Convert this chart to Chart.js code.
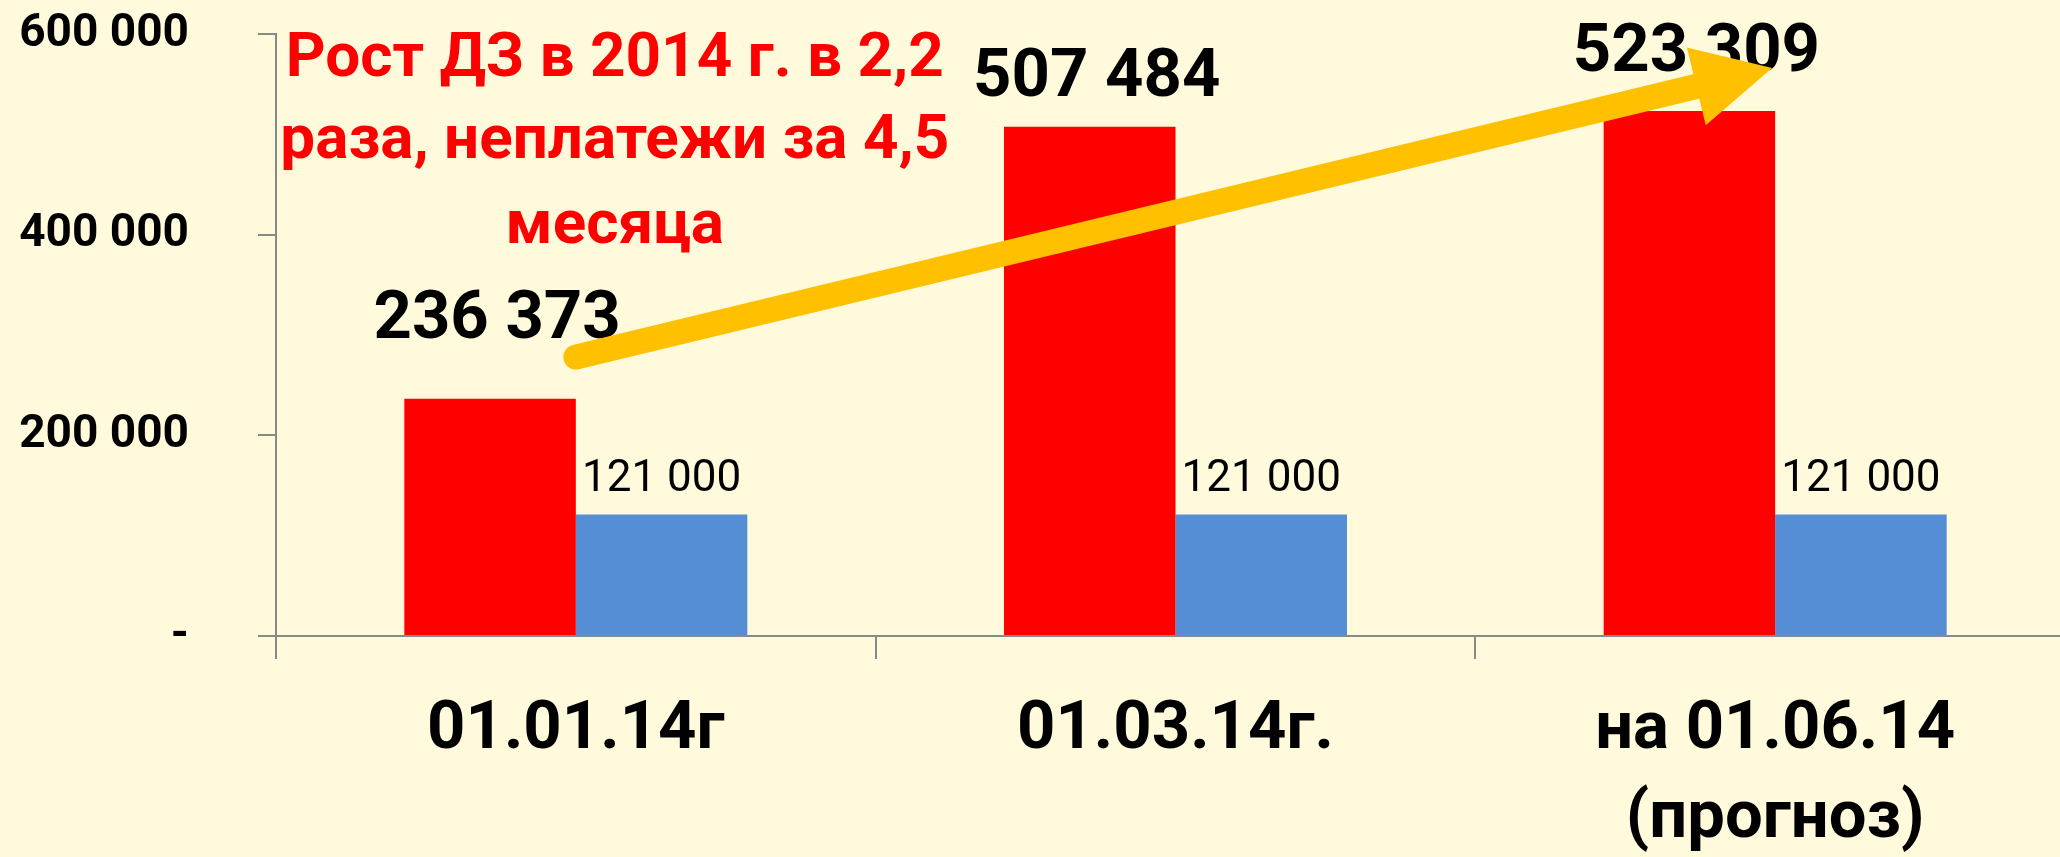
<!DOCTYPE html>
<html>
<head>
<meta charset="utf-8">
<script src="https://cdn.jsdelivr.net/npm/chart.js@4.4.1/dist/chart.umd.min.js"></script>
<style>
  html, body { margin: 0; padding: 0; background: #FFFADC; overflow: hidden; }
  #wrap { width: 2080px; height: 857px; }
</style>
</head>
<body>
<div id="wrap"><canvas id="debtChart"></canvas></div>
<script>
const categories = ['01.01.14г', '01.03.14г.', ['на 01.06.14', '(прогноз)']];
const debtValues = [236373, 507484, 523309];
const paymentValues = [121000, 121000, 121000];
const yTickStep = 200000;
const yMax = 600000;
const noteLines = ['Рост ДЗ в 2014 г. в 2,2', 'раза, неплатежи за 4,5', 'месяца'];
// arrow from / to, as [category index, value]
const trendArrow = [[0, 278000], [1.995, 566000]];

const FONT = 'Roboto, "Liberation Sans", sans-serif';

function fmt(v) {
    if (v === 0) return '-';
    return String(v).replace(/\B(?=(\d{3})+(?!\d))/g, ' ');
}

const backgroundPlugin = {
    id: 'bg',
    beforeDraw(chart) {
        const c = chart.ctx;
        c.save();
        c.fillStyle = '#FFFADC';
        c.fillRect(0, 0, chart.width, chart.height);
        c.restore();
    }
};

const valueLabels = {
    id: 'valueLabels',
    afterDatasetsDraw(chart, args, opts) {
        const c = chart.ctx;
        c.save();
        c.textAlign = 'center';
        c.textBaseline = 'alphabetic';
        c.fillStyle = '#000';
        chart.data.datasets.forEach((ds, i) => {
            const style = opts.styles[i];
            c.font = style.font;
            chart.getDatasetMeta(i).data.forEach((bar, j) => {
                const lift = Array.isArray(style.lift) ? style.lift[j] : style.lift;
                c.fillText(fmt(ds.data[j]), bar.x + style.dx, bar.y - lift);
            });
        });
        c.restore();
    }
};

const notePlugin = {
    id: 'note',
    afterDatasetsDraw(chart) {
        const c = chart.ctx;
        const x = chart.scales.x.getPixelForValue(0.065);
        const top = chart.scales.y.getPixelForValue(yMax);
        c.save();
        c.font = 'bold 62px ' + FONT;
        c.fillStyle = '#FF0000';
        c.textAlign = 'center';
        c.textBaseline = 'alphabetic';
        const baselines = [42, 124, 209];
        noteLines.forEach((line, i) => c.fillText(line, x, top + baselines[i]));
        c.restore();
    }
};

const arrowPlugin = {
    id: 'arrow',
    afterDraw(chart) {
        const c = chart.ctx;
        const xs = chart.scales.x, ys = chart.scales.y;
        const x0 = xs.getPixelForValue(trendArrow[0][0]), y0 = ys.getPixelForValue(trendArrow[0][1]);
        const x1 = xs.getPixelForValue(trendArrow[1][0]), y1 = ys.getPixelForValue(trendArrow[1][1]);
        const ang = Math.atan2(y1 - y0, x1 - x0);
        const headLen = 78, headHalf = 40;
        const bx = x1 - headLen * Math.cos(ang), by = y1 - headLen * Math.sin(ang);
        c.save();
        c.strokeStyle = '#FFC000';
        c.fillStyle = '#FFC000';
        c.lineWidth = 25;
        c.lineCap = 'round';
        c.beginPath();
        c.moveTo(x0, y0);
        c.lineTo(bx + 4 * Math.cos(ang), by + 4 * Math.sin(ang));
        c.stroke();
        c.beginPath();
        c.moveTo(x1, y1);
        c.lineTo(bx + headHalf * Math.sin(ang), by - headHalf * Math.cos(ang));
        c.lineTo(bx - headHalf * Math.sin(ang), by + headHalf * Math.cos(ang));
        c.closePath();
        c.fill();
        c.restore();
    }
};

const ctx = document.getElementById('debtChart').getContext('2d');
new Chart(ctx, {
    type: 'bar',
    data: {
        labels: categories,
        datasets: [{
            label: 'Дебиторская задолженность',
            data: debtValues,
            backgroundColor: '#FF0000',
            categoryPercentage: 0.572,
            barPercentage: 1.0
        }, {
            label: 'Платежи',
            data: paymentValues,
            backgroundColor: '#558ED5',
            categoryPercentage: 0.572,
            barPercentage: 1.0
        }]
    },
    options: {
        responsive: true,
        maintainAspectRatio: false,
        animation: false,
        layout: { padding: { top: 34, right: 5, left: 0, bottom: 0 } },
        plugins: {
            legend: { display: false },
            tooltip: { enabled: false },
            valueLabels: {
                styles: [
                    { font: 'bold 67px ' + FONT, lift: [61, 31, 40], dx: 7 },
                    { font: '44px ' + FONT, lift: 24, dx: 0 }
                ]
            }
        },
        scales: {
            y: {
                min: 0,
                max: yMax,
                ticks: {
                    stepSize: yTickStep,
                    callback: v => fmt(v),
                    color: '#000',
                    font: { family: FONT, size: 46, weight: 'bold' },
                    padding: 69
                },
                grid: { drawOnChartArea: false, tickLength: 18, color: '#898989', lineWidth: 2 },
                border: { color: '#898989', width: 2 },
                afterFit: s => { s.width = 276; s.paddingTop = 0; s.paddingBottom = 0; }
            },
            x: {
                ticks: {
                    color: '#000',
                    font: { family: FONT, size: 67, weight: 'bold', lineHeight: 1.34 },
                    padding: 27,
                    maxRotation: 0,
                    autoSkip: false
                },
                grid: { drawOnChartArea: false, tickLength: 23, color: '#898989', lineWidth: 2, offset: true },
                border: { color: '#898989', width: 2 },
                afterFit: s => { s.height = 221; s.paddingLeft = 0; s.paddingRight = 0; }
            }
        }
    },
    plugins: [backgroundPlugin, valueLabels, notePlugin, arrowPlugin]
});
</script>
</body>
</html>
